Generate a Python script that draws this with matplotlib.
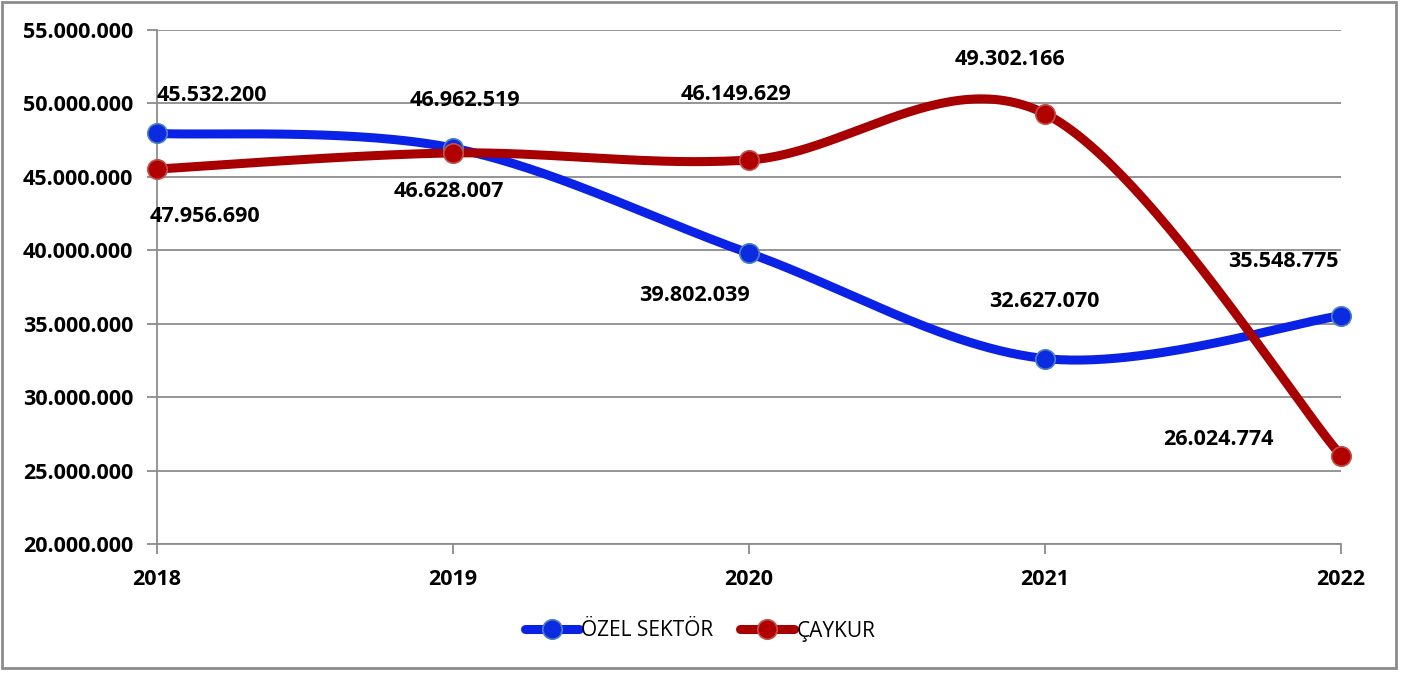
import matplotlib.pyplot as plt
from matplotlib.patches import Rectangle
from matplotlib.ticker import FuncFormatter
import numpy as np

plt.rcParams["font.family"] = ["Open Sans", "DejaVu Sans"]

years = [2018, 2019, 2020, 2021, 2022]
ozel = [47956690, 46962519, 39802039, 32627070, 35548775]
caykur = [45532200, 46628007, 46149629, 49302166, 26024774]
series_names = ["ÖZEL SEKTÖR", "ÇAYKUR"]

# label offsets in pixels (x, y up), Excel put them a bit all over the place
ozel_off = [(48, -83), (12, 48), (-55, -42), (-1, 57), (-58, 54)]
caykur_off = [(55, 74), (-4, -39), (-13, 65), (-35, 54), (-123, 16)]


def smooth(x, y, n=60):
    # Catmull-Rom like Excel's smoothed line
    x = np.asarray(x, float)
    y = np.asarray(y, float)
    px = np.concatenate([[x[0]], x, [x[-1]]])
    py = np.concatenate([[y[0]], y, [y[-1]]])
    xs, ys = [], []
    t = np.linspace(0, 1, n)
    for i in range(1, len(px) - 2):
        p0, p1, p2, p3 = (np.array([px[j], py[j]]) for j in (i - 1, i, i + 1, i + 2))
        c1 = p1 + (p2 - p0) / 6
        c2 = p2 - (p3 - p1) / 6
        b = ((1 - t) ** 3)[:, None] * p1 + (3 * (1 - t) ** 2 * t)[:, None] * c1 \
            + (3 * (1 - t) * t ** 2)[:, None] * c2 + (t ** 3)[:, None] * p2
        xs.append(b[:, 0])
        ys.append(b[:, 1])
    return np.concatenate(xs), np.concatenate(ys)


def fmt(v):
    return f"{int(v):,}".replace(",", ".")


fig = plt.figure(figsize=(14.03, 6.73), dpi=100)
ax = fig.add_axes([157 / 1403, 1 - 544 / 673, (1341 - 157) / 1403, (544 - 30) / 673])

styles = [
    dict(color="#0A22E6", mfc="#0A2BE0", mec="#4F81BD"),
    dict(color="#A80000", mfc="#B00000", mec="#C0504D"),
]

handles = []
for vals, offs, st, name in zip([ozel, caykur], [ozel_off, caykur_off], styles, series_names):
    sx, sy = smooth(years, vals)
    ax.plot(sx, sy, color=st["color"], lw=6.5, solid_capstyle="round", clip_on=False, zorder=3)
    ax.plot(years, vals, ls="none", marker="o", ms=14, mfc=st["mfc"], mec=st["mec"],
            mew=1.2, clip_on=False, zorder=4)
    h, = ax.plot([], [], color=st["color"], lw=6.5, solid_capstyle="round", marker="o", ms=14,
                 mfc=st["mfc"], mec=st["mec"], mew=1.2, label=name)
    handles.append(h)
    for x, v, (dx, dy) in zip(years, vals, offs):
        ax.annotate(fmt(v), (x, v), xytext=(dx, dy), textcoords="offset pixels",
                    ha="center", va="center", fontsize=15.5, fontweight="bold", color="#000000")

ax.set_xlim(2018, 2022)
ax.set_ylim(20000000, 55000000)
ax.set_xticks(years)
ax.set_yticks(np.arange(20000000, 55000001, 5000000))
ax.yaxis.set_major_formatter(FuncFormatter(lambda v, p: fmt(v)))
ax.grid(axis="y", color="#8C8C8C", lw=1.3)
ax.set_axisbelow(True)
for s in ["top", "right"]:
    ax.spines[s].set_visible(False)
for s in ["left", "bottom"]:
    ax.spines[s].set_color("#8C8C8C")
    ax.spines[s].set_linewidth(1.3)
ax.tick_params(axis="y", length=7, color="#8C8C8C", width=1.3, pad=10)
ax.tick_params(axis="x", length=7, color="#8C8C8C", width=1.3, pad=11)
for lab in ax.get_xticklabels() + ax.get_yticklabels():
    lab.set_fontsize(15.5)
    lab.set_fontweight("bold")

fig.legend(handles=handles, loc="center", bbox_to_anchor=(700 / 1403, 1 - 631 / 673), ncol=2,
           frameon=False, fontsize=15, handlelength=2.6, handletextpad=0.1, columnspacing=1.3)

fig.patches.append(Rectangle((2 / 1403, 5 / 673), 1394 / 1403, 666 / 673, transform=fig.transFigure,
                             fill=False, ec="#8C8C8C", lw=2))

fig.savefig("out.png", dpi=100)
